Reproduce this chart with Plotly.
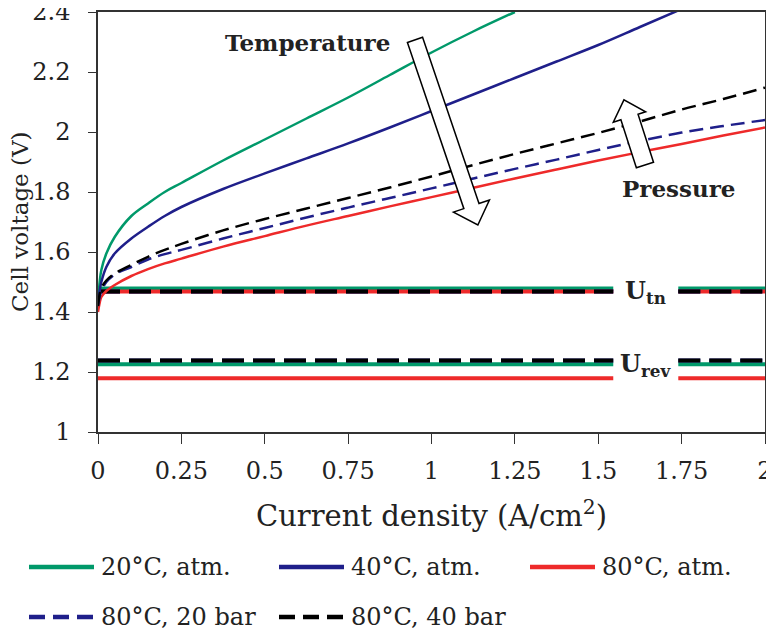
import plotly.graph_objects as go

# Current density (A/cm2) and cell voltages (V)
current_density = [0, 0.005, 0.01, 0.025, 0.05, 0.1, 0.15, 0.2, 0.25, 0.375, 0.5, 0.625,
                   0.75, 0.875, 1.0, 1.125, 1.25, 1.375, 1.5, 1.625, 1.75, 1.875, 2.0]
v_20c_atm = [1.42, 1.50, 1.54, 1.595, 1.65, 1.72, 1.762, 1.80, 1.83, 1.905, 1.975, 2.045,
             2.115, 2.19, 2.265, 2.335, 2.40, None, None, None, None, None, None]
v_40c_atm = [1.42, 1.47, 1.50, 1.55, 1.595, 1.645, 1.684, 1.72, 1.75, 1.81, 1.862, 1.912,
             1.962, 2.015, 2.07, 2.125, 2.18, 2.235, 2.29, 2.35, 2.41, None, None]
v_80c_atm = [1.40, 1.43, 1.45, 1.47, 1.49, 1.52, 1.543, 1.562, 1.578, 1.618, 1.653, 1.688,
             1.72, 1.752, 1.783, 1.814, 1.845, 1.875, 1.905, 1.933, 1.96, 1.988, 2.015]
v_80c_20bar = [1.42, 1.45, 1.47, 1.50, 1.525, 1.55, 1.575, 1.593, 1.607, 1.645, 1.68, 1.715,
               1.748, 1.78, 1.812, 1.845, 1.877, 1.908, 1.94, 1.97, 1.998, 2.02, 2.04]
v_80c_40bar = [1.42, 1.46, 1.48, 1.505, 1.528, 1.557, 1.584, 1.607, 1.627, 1.672, 1.71, 1.745,
               1.78, 1.815, 1.852, 1.89, 1.927, 1.962, 1.997, 2.035, 2.075, 2.11, 2.148]

series_names = ["20°C, atm.", "40°C, atm.", "80°C, atm.", "80°C, 20 bar", "80°C, 40 bar"]
series_values = [v_20c_atm, v_40c_atm, v_80c_atm, v_80c_20bar, v_80c_40bar]

# Thermoneutral and reversible voltages (lines broken where the labels sit)
u_names = ["20°C, atm.", "80°C, atm.", "80°C, 20 bar", "80°C, 40 bar"]
u_tn_values = [1.478, 1.468, 1.468, 1.468]
u_rev_values = [1.226, 1.179, 1.238, 1.238]
u_line_x = [0, 1.545, None, 1.74, 2.0]

x_ticks = [0, 0.25, 0.5, 0.75, 1, 1.25, 1.5, 1.75, 2]
y_ticks = [1, 1.2, 1.4, 1.6, 1.8, 2, 2.2, 2.4]

FONT = "DejaVu Serif"
TEXT = "#222222"
styles = {
    "20°C, atm.": dict(color="#00996a", dash="solid"),
    "40°C, atm.": dict(color="#1f1f8a", dash="solid"),
    "80°C, atm.": dict(color="#ee2a2a", dash="solid"),
    "80°C, 20 bar": dict(color="#1f1f8a", dash="14px,7px"),
    "80°C, 40 bar": dict(color="#000000", dash="14px,7px"),
}

fig = go.Figure()

# horizontal reference lines first so the curves sit on top
for values in (u_tn_values, u_rev_values):
    for name, val in zip(u_names, values):
        st = styles[name]
        dash = "22px,9px" if st["dash"] != "solid" else "solid"
        fig.add_trace(go.Scatter(
            x=u_line_x,
            y=[val if xv is not None else None for xv in u_line_x],
            mode="lines", showlegend=False, hoverinfo="skip",
            line=dict(color=st["color"], width=4, dash=dash),
        ))

for name, vals in zip(series_names, series_values):
    st = styles[name]
    fig.add_trace(go.Scatter(
        x=current_density, y=vals, name=name, mode="lines", showlegend=False,
        line=dict(color=st["color"], width=2.5, dash=st["dash"], shape="spline", smoothing=1),
    ))

# the page body adds an 8px margin, so the figure is laid out 8px smaller
OFF = 8
W, H = 774 - OFF, 631 - OFF
L, R, T, B = 98 - OFF, 765 - OFF, 12 - OFF, 432 - OFF
SX, SY = (R - L) / 2.0, (B - T) / 1.4


def block_arrow(tail, tip, body_hw, head_hw, head_len):
    tx, ty = tail[0] * SX, -tail[1] * SY
    hx, hy = tip[0] * SX, -tip[1] * SY
    dx, dy = hx - tx, hy - ty
    ln = (dx ** 2 + dy ** 2) ** 0.5
    ux, uy = dx / ln, dy / ln
    nx, ny = -uy, ux
    neck = (hx - ux * head_len, hy - uy * head_len)
    pts = [
        (tx + nx * body_hw, ty + ny * body_hw),
        (neck[0] + nx * body_hw, neck[1] + ny * body_hw),
        (neck[0] + nx * head_hw, neck[1] + ny * head_hw),
        (hx, hy),
        (neck[0] - nx * head_hw, neck[1] - ny * head_hw),
        (neck[0] - nx * body_hw, neck[1] - ny * body_hw),
        (tx - nx * body_hw, ty - ny * body_hw),
    ]
    path = "M " + " L ".join(f"{px / SX:.4f},{-py / SY:.4f}" for px, py in pts) + " Z"
    return dict(type="path", path=path, xref="x", yref="y", layer="above",
                fillcolor="white", line=dict(color="black", width=1.5))


fig.add_shape(block_arrow((0.9505, 2.307), (1.139, 1.69), 8, 19, 20))
fig.add_shape(block_arrow((1.640, 1.89), (1.577, 2.107), 9, 17, 18))

fig.add_annotation(x=0.627, y=2.297, text="<b>Temperature</b>", showarrow=False,
                   font=dict(family=FONT, size=23, color=TEXT))
fig.add_annotation(x=1.742, y=1.813, text="<b>Pressure</b>", showarrow=False,
                   font=dict(family=FONT, size=23, color=TEXT))
fig.add_annotation(x=1.643, y=1.466, text="<b>U<sub>tn</sub></b>", showarrow=False,
                   font=dict(family=FONT, size=24, color=TEXT))
fig.add_annotation(x=1.643, y=1.222, text="<b>U<sub>rev</sub></b>", showarrow=False,
                   font=dict(family=FONT, size=24, color=TEXT))

# y-axis title placed by hand so it clears the tick labels
fig.add_annotation(xref="paper", yref="paper", x=(20 - OFF - L) / (R - L), y=0.5,
                   text="Cell voltage (V)", textangle=-90, showarrow=False,
                   xanchor="center", yanchor="middle",
                   font=dict(family=FONT, size=23, color=TEXT))

# legend: 3 entries on the first row, 2 on the second, long line samples
legend_cols = [29 - OFF, 279 - OFF, 530 - OFF]
legend_rows = [567 - OFF, 617 - OFF]
for i, name in enumerate(series_names):
    st = styles[name]
    x0 = legend_cols[i % 3]
    yp = legend_rows[i // 3]
    py = (B - yp) / (B - T)
    dash = "16px,8px" if st["dash"] != "solid" else "solid"
    fig.add_shape(type="line", xref="paper", yref="paper",
                  x0=(x0 - L) / (R - L), x1=(x0 + 65 - L) / (R - L), y0=py, y1=py,
                  line=dict(color=st["color"], width=4.5, dash=dash))
    fig.add_annotation(xref="paper", yref="paper", x=(x0 + 70 - L) / (R - L), y=py,
                       xanchor="left", yanchor="middle", text=name, showarrow=False,
                       font=dict(family=FONT, size=24, color=TEXT))

fig.update_layout(
    width=W, height=H,
    margin=dict(l=L, r=W - R, t=T, b=H - B, autoexpand=False),
    plot_bgcolor="white", paper_bgcolor="white",
    font=dict(family=FONT, size=24, color=TEXT),
    showlegend=False,
    xaxis=dict(
        range=[0, 2], tickvals=x_ticks, showgrid=False, zeroline=False,
        showline=True, linecolor="#333", linewidth=1.5, mirror=True,
        ticks="outside", ticklen=10, tickcolor="#333", ticklabelstandoff=6,
        ticklabeloverflow="allow",
        title=dict(text="Current density (A/cm<sup>2</sup>)", standoff=22),
    ),
    yaxis=dict(
        range=[1, 2.4], tickvals=y_ticks, showgrid=False, zeroline=False,
        showline=True, linecolor="#333", linewidth=1.5, mirror=True,
        ticks="outside", ticklen=8, tickcolor="#333", ticklabelstandoff=13,
        ticklabeloverflow="allow",
    ),
)

fig.write_html("out.html")
